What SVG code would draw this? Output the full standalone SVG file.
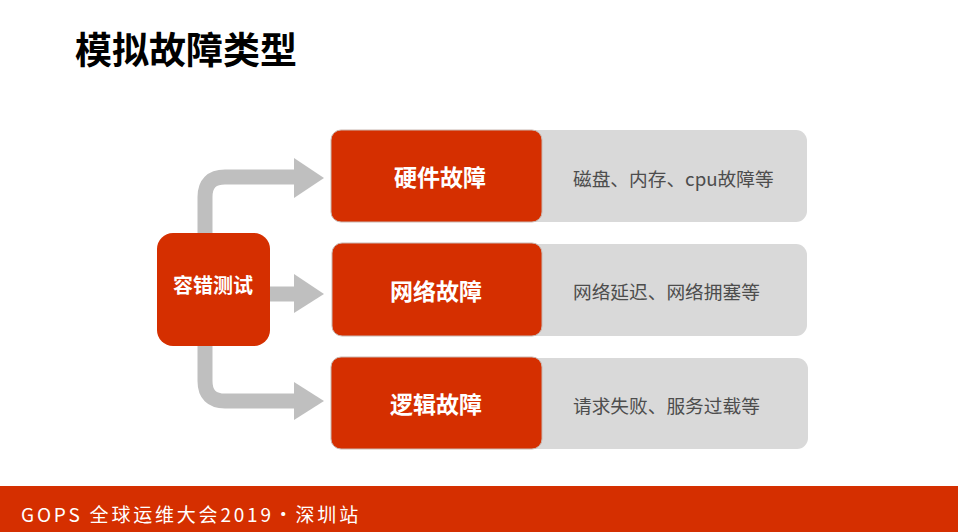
<svg xmlns="http://www.w3.org/2000/svg" width="958" height="532" viewBox="0 0 958 532">
<style>
.cjk{font-family:"Noto Sans CJK SC","Liberation Sans",sans-serif}
.red{fill:#d52f00}
.rbox{fill:#d52f00;stroke:#c9b7b0;stroke-width:1}
.gbox{fill:#d9d9d9}
.lbl{fill:#ffffff;font-weight:bold;font-size:23px;text-anchor:middle;dominant-baseline:central}
.lbl.small{font-size:20px}
.desc{fill:#4d4d4d;font-size:18.7px;dominant-baseline:central}
.shaft{fill:none;stroke:#bfbfbf;stroke-width:15}
.head{fill:#bfbfbf}
</style>
<rect width="958" height="532" fill="#ffffff"/>
<text class="cjk" x="75" y="64" font-size="37" font-weight="bold" fill="#000000">模拟故障类型</text>

<g id="connectors">
<path class="shaft" d="M205 234 V197 Q205 177 225 177 H296"/>
<polygon class="head" points="294,158 324,178 294,198"/>
<path class="shaft" d="M268 294 H296"/>
<polygon class="head" points="294,274 324,294 294,313"/>
<path class="shaft" d="M205 345 V381 Q205 401 225 401 H296"/>
<polygon class="head" points="294,382 324,401 294,420"/>
</g>

<g id="n-hw-desc">
<rect class="gbox" x="520" y="130" width="287" height="92" rx="11"/>
<text class="cjk desc" x="573" y="177">磁盘、内存、cpu故障等</text>
</g>
<g id="n-net-desc">
<rect class="gbox" x="520" y="244" width="287" height="92" rx="11"/>
<text class="cjk desc" x="573" y="290">网络延迟、网络拥塞等</text>
</g>
<g id="n-logic-desc">
<rect class="gbox" x="520" y="358" width="288" height="91" rx="11"/>
<text class="cjk desc" x="573" y="404">请求失败、服务过载等</text>
</g>

<g id="n-root">
<rect class="red" x="157" y="233" width="113" height="113" rx="16"/>
<text class="cjk lbl small" x="213" y="284">容错测试</text>
</g>
<g id="n-hw">
<rect class="rbox" x="331" y="130" width="211" height="92" rx="10"/>
<text class="cjk lbl" x="440" y="176">硬件故障</text>
</g>
<g id="n-net">
<rect class="rbox" x="332" y="243" width="210" height="93" rx="10"/>
<text class="cjk lbl" x="436" y="290">网络故障</text>
</g>
<g id="n-logic">
<rect class="rbox" x="331" y="357" width="211" height="92" rx="10"/>
<text class="cjk lbl" x="436" y="403">逻辑故障</text>
</g>

<rect class="red" x="0" y="486" width="958" height="46"/>
<text class="cjk" x="21" y="522" font-size="19" fill="#ffffff" letter-spacing="2.8">GOPS 全球运维大会2019·深圳站</text>
</svg>
